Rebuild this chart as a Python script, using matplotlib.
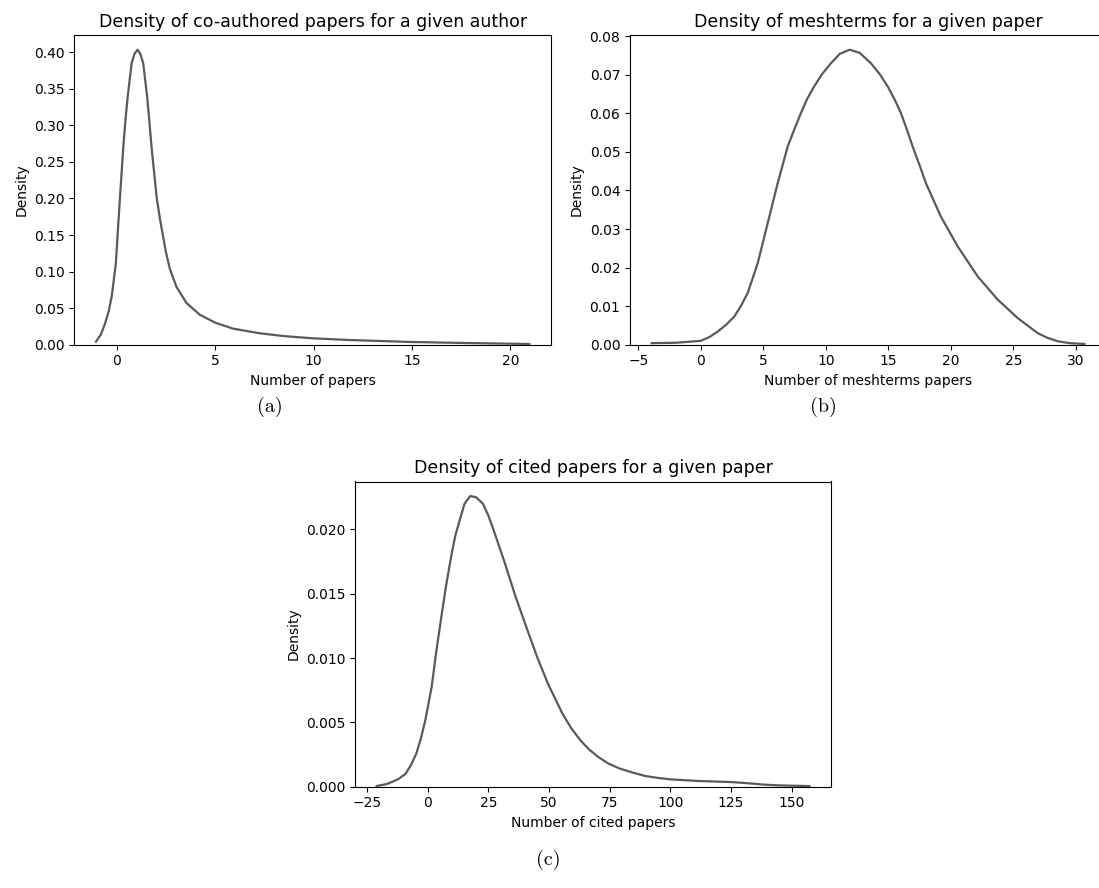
import matplotlib
matplotlib.use("Agg")
import matplotlib.pyplot as plt

# density curves
coauth_x = [-1.05, -0.8, -0.59, -0.4, -0.25, -0.04, 0.06, 0.17, 0.34, 0.45, 0.56, 0.76,
            0.91, 1.06, 1.2, 1.35, 1.55, 1.66, 1.77, 2.03, 2.2, 2.36, 2.5, 2.70, 3.04,
            3.55, 4.22, 5.02, 5.91, 7.27, 8.45, 9.97, 11.83, 14.99, 17.75, 20.0, 20.96]
coauth_y = [0.0041, 0.014, 0.029, 0.046, 0.066, 0.111, 0.155, 0.202, 0.271, 0.308, 0.339,
            0.385, 0.398, 0.4035, 0.398, 0.385, 0.339, 0.306, 0.271, 0.202, 0.172, 0.148,
            0.127, 0.104, 0.079, 0.057, 0.041, 0.030, 0.022, 0.0156, 0.0119, 0.0087,
            0.0064, 0.0037, 0.0023, 0.0014, 0.0010]

mesh_x = [-3.93, -2.0, 0.0, 0.7, 1.35, 2.0, 2.68, 3.2, 3.75, 4.55, 5.35, 6.15, 6.95,
          7.5, 8.01, 8.5, 9.07, 9.7, 10.41, 11.1, 11.9, 12.7, 13.6, 14.3, 14.94, 15.5,
          16.0, 16.5, 16.94, 17.5, 18.0, 19.2, 20.54, 22.14, 23.74, 25.34, 26.94, 27.7,
          28.54, 29.5, 30.67]
mesh_y = [0.0004, 0.0005, 0.001, 0.002, 0.0034, 0.0051, 0.0073, 0.0100, 0.0134, 0.0211,
          0.0315, 0.0419, 0.0514, 0.0560, 0.0601, 0.0637, 0.0670, 0.0702, 0.0730, 0.0754,
          0.0765, 0.0757, 0.0730, 0.0702, 0.0670, 0.0636, 0.0601, 0.0556, 0.0514, 0.0465,
          0.0419, 0.0332, 0.0255, 0.0177, 0.0117, 0.0069, 0.0030, 0.0018, 0.0009, 0.0004,
          0.0002]

cited_x = [-21.0, -17.0, -14.3, -12.0, -9.1, -6.8, -4.6, -2.7, -0.9, 1.7, 3.5, 5.5, 7.5,
           9.9, 11.4, 13.2, 15.2, 17.6, 20.0, 22.8, 25.0, 27.3, 31.8, 36.2, 40.7, 45.1,
           49.6, 55.5, 59.0, 63.0, 66.5, 70.4, 74.5, 79.3, 84.5, 89.7, 95.0, 100.1,
           112.0, 125.3, 132.0, 138.7, 145.0, 157.3]
cited_y = [0.00005, 0.0002, 0.0004, 0.0006, 0.0010, 0.0017, 0.0026, 0.0038, 0.0052, 0.0078,
           0.0104, 0.0130, 0.0155, 0.0181, 0.0195, 0.0207, 0.0220, 0.0226, 0.0225, 0.0220,
           0.0211, 0.0199, 0.0174, 0.0148, 0.0124, 0.0101, 0.0080, 0.0057, 0.0046, 0.0036,
           0.0029, 0.0023, 0.0018, 0.0014, 0.0011, 0.00083, 0.00068, 0.00057, 0.00044,
           0.00036, 0.00027, 0.00016, 0.0001, 0.00005]

s = 1.0
plt.rcParams.update({
    'font.size': 10 * s,
    'axes.titlesize': 12.5,
    'axes.linewidth': 0.8 * s,
    'xtick.major.size': 3.5 * s,
    'ytick.major.size': 3.5 * s,
    'xtick.major.width': 0.8 * s,
    'ytick.major.width': 0.8 * s,
    'axes.titlepad': 6 * s,
    'axes.labelpad': 4 * s,
})

W, H = 1099, 888
fig = plt.figure(figsize=(W / 100, H / 100), dpi=100)


def px_axes(left, top, right, bottom):
    return fig.add_axes([left / W, 1 - bottom / H, (right - left) / W, (bottom - top) / H])


panels = [
    (px_axes(74.3, 35, 551, 344.7), coauth_x, coauth_y,
     'Density of co-authored papers for a given author', 'Number of papers'),
    (px_axes(630, 35, 1106, 344.7), mesh_x, mesh_y,
     'Density of meshterms for a given paper', 'Number of meshterms papers'),
    (px_axes(355, 481.5, 831, 786.7), cited_x, cited_y,
     'Density of cited papers for a given paper', 'Number of cited papers'),
]

for ax, xs, ys, title, xlabel in panels:
    ax.plot(xs, ys, color='#5a5a5a', lw=1.6, solid_joinstyle='round')
    ax.set_ylim(0, None)
    ax.set_title(title)
    ax.set_xlabel(xlabel)
    ax.set_ylabel('Density')

# subfigure captions
for x, y, lab in [(270, 407, '(a)'), (823, 407, '(b)'), (548, 860, '(c)')]:
    fig.text(x / W, 1 - y / H, lab, ha='center', va='center', family='cmr10', fontsize=14.5)

fig.savefig('out.png', dpi=100)
